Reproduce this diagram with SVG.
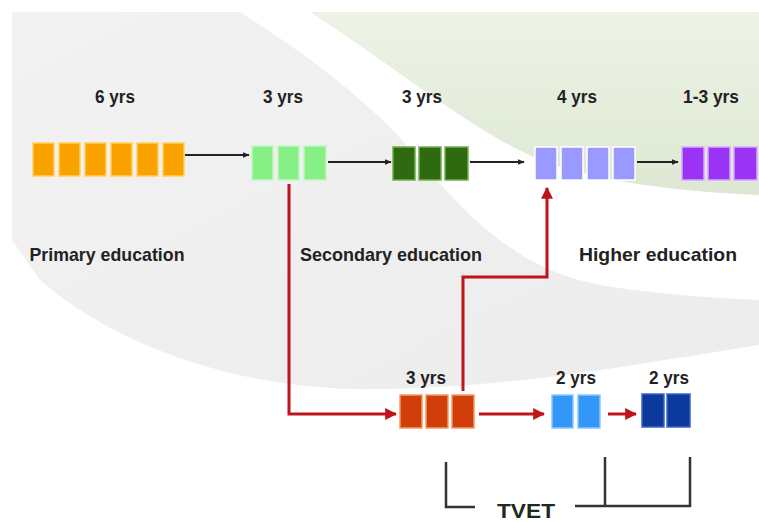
<svg xmlns="http://www.w3.org/2000/svg" width="759" height="522" viewBox="0 0 759 522">
<defs>
<linearGradient id="gGreen" x1="0" y1="0" x2="0" y2="1"><stop offset="0" stop-color="#edf3e6"/><stop offset="1" stop-color="#dee7d3"/></linearGradient>
<linearGradient id="gGray" x1="0" y1="0" x2="1" y2="1"><stop offset="0" stop-color="#f2f2f2"/><stop offset="1" stop-color="#ececed"/></linearGradient>
<marker id="mBlack" viewBox="0 0 10 10" refX="9" refY="5" markerWidth="4" markerHeight="4" orient="auto" markerUnits="strokeWidth"><path d="M0,1 L10,5 L0,9 z" fill="#222"/></marker>
<marker id="mRed" viewBox="0 0 10 10" refX="9" refY="5" markerWidth="4" markerHeight="4" orient="auto" markerUnits="strokeWidth"><path d="M0,0 L10,5 L0,10 z" fill="#c0141c"/></marker>
</defs>
<style>
.lbl{font-family:"Liberation Sans",Arial,sans-serif;font-weight:bold;fill:#222;text-anchor:middle}
.yrs{font-size:18px}
.sec{font-size:19px}
.k{stroke:#222;stroke-width:1.8;fill:none}
.r{stroke:#c0141c;stroke-width:3;fill:none}
.br{stroke:#333;stroke-width:2.5;fill:none}
.or{fill:#f9a200;stroke:#ffcf5a;stroke-width:1.5}
.lg{fill:#86f086;stroke:#c2f8c2;stroke-width:1.5}
.dg{fill:#2f6a10;stroke:#6fb04a;stroke-width:1.5}
.lv{fill:#9a99ff;stroke:#ffffff;stroke-width:1.5}
.pu{fill:#9b33f5;stroke:#d6a8ff;stroke-width:1.5}
.rd{fill:#d23e0a;stroke:#f39a6a;stroke-width:1.5}
.lb{fill:#3297f7;stroke:#8cc6ff;stroke-width:1.5}
.db{fill:#0c3a9c;stroke:#3a66c8;stroke-width:1.5}
</style>
<rect width="759" height="522" fill="#ffffff"/>
<g id="background">
<path d="M12,12 L240,12 C300,50 370,100 420,160 C470,220 520,270 600,285 C660,295 720,298 759,300 L759,345 C660,360 520,388 380,389 C250,392 120,350 40,280 L12,240 Z" fill="url(#gGray)"/>
<path d="M310,12 L759,12 L759,195 C680,192 600,182 540,160 C470,130 400,70 310,12 Z" fill="url(#gGreen)"/>
</g>
<g id="connectors">
<line class="k" x1="185" y1="155" x2="249" y2="155" marker-end="url(#mBlack)"/>
<line class="k" x1="328" y1="162" x2="391" y2="162" marker-end="url(#mBlack)"/>
<line class="k" x1="470" y1="162" x2="524" y2="162" marker-end="url(#mBlack)"/>
<line class="k" x1="637" y1="162" x2="678" y2="162" marker-end="url(#mBlack)"/>
<path class="r" d="M289,184 L289,414 L396,414" marker-end="url(#mRed)"/>
<path class="r" d="M463,391 L463,277 L547,277 L547,188" marker-end="url(#mRed)"/>
<line class="r" x1="479" y1="414" x2="544" y2="414" marker-end="url(#mRed)"/>
<line class="r" x1="608" y1="414" x2="636" y2="414" marker-end="url(#mRed)"/>
</g>
<g id="primary">
<text class="lbl yrs" x="115" y="103" textLength="40" lengthAdjust="spacingAndGlyphs">6 yrs</text>
<rect class="or" x="33" y="143" width="21" height="33"/>
<rect class="or" x="59" y="143" width="21" height="33"/>
<rect class="or" x="85" y="143" width="21" height="33"/>
<rect class="or" x="111" y="143" width="21" height="33"/>
<rect class="or" x="137" y="143" width="21" height="33"/>
<rect class="or" x="163" y="143" width="21" height="33"/>
<text class="lbl sec" x="107" y="261" textLength="155" lengthAdjust="spacingAndGlyphs">Primary education</text>
</g>
<g id="secondary1">
<text class="lbl yrs" x="283" y="103" textLength="40" lengthAdjust="spacingAndGlyphs">3 yrs</text>
<rect class="lg" x="252" y="146" width="21" height="34"/>
<rect class="lg" x="278" y="146" width="21" height="34"/>
<rect class="lg" x="304" y="146" width="22" height="34"/>
<text class="lbl sec" x="391" y="261" textLength="182" lengthAdjust="spacingAndGlyphs">Secondary education</text>
</g>
<g id="secondary2">
<text class="lbl yrs" x="422" y="103" textLength="40" lengthAdjust="spacingAndGlyphs">3 yrs</text>
<rect class="dg" x="393" y="147" width="22" height="33"/>
<rect class="dg" x="419" y="147" width="22" height="33"/>
<rect class="dg" x="445" y="147" width="23" height="33"/>
</g>
<g id="higher">
<text class="lbl yrs" x="577" y="103" textLength="40" lengthAdjust="spacingAndGlyphs">4 yrs</text>
<rect class="lv" x="535" y="147" width="22" height="33"/>
<rect class="lv" x="561" y="147" width="22" height="33"/>
<rect class="lv" x="587" y="147" width="22" height="33"/>
<rect class="lv" x="613" y="147" width="22" height="33"/>
<text class="lbl sec" x="658" y="261" textLength="158" lengthAdjust="spacingAndGlyphs">Higher education</text>
</g>
<g id="postgrad">
<text class="lbl yrs" x="711" y="103" textLength="56" lengthAdjust="spacingAndGlyphs">1-3 yrs</text>
<rect class="pu" x="682" y="147" width="22" height="33"/>
<rect class="pu" x="708" y="147" width="22" height="33"/>
<rect class="pu" x="734" y="147" width="23" height="33"/>
</g>
<g id="tvet1">
<text class="lbl yrs" x="426" y="384" textLength="40" lengthAdjust="spacingAndGlyphs">3 yrs</text>
<rect class="rd" x="400" y="395" width="22" height="33"/>
<rect class="rd" x="426" y="395" width="22" height="33"/>
<rect class="rd" x="452" y="395" width="22" height="33"/>
</g>
<g id="tvet2">
<text class="lbl yrs" x="576" y="384" textLength="40" lengthAdjust="spacingAndGlyphs">2 yrs</text>
<rect class="lb" x="552" y="395" width="21" height="33"/>
<rect class="lb" x="578" y="395" width="22" height="33"/>
</g>
<g id="tvet3">
<text class="lbl yrs" x="669" y="384" textLength="40" lengthAdjust="spacingAndGlyphs">2 yrs</text>
<rect class="db" x="642" y="394" width="22" height="33"/>
<rect class="db" x="667" y="394" width="23" height="33"/>
</g>
<g id="tvet-bracket">
<path class="br" d="M446,462 L446,507 L475,507"/>
<path class="br" d="M575,506 L690,506 L690,457"/>
<path class="br" d="M605,457 L605,506"/>
<text class="lbl" x="526" y="518" style="font-size:20px;fill:#1f2a1f" textLength="58" lengthAdjust="spacingAndGlyphs">TVET</text>
</g>
</svg>
